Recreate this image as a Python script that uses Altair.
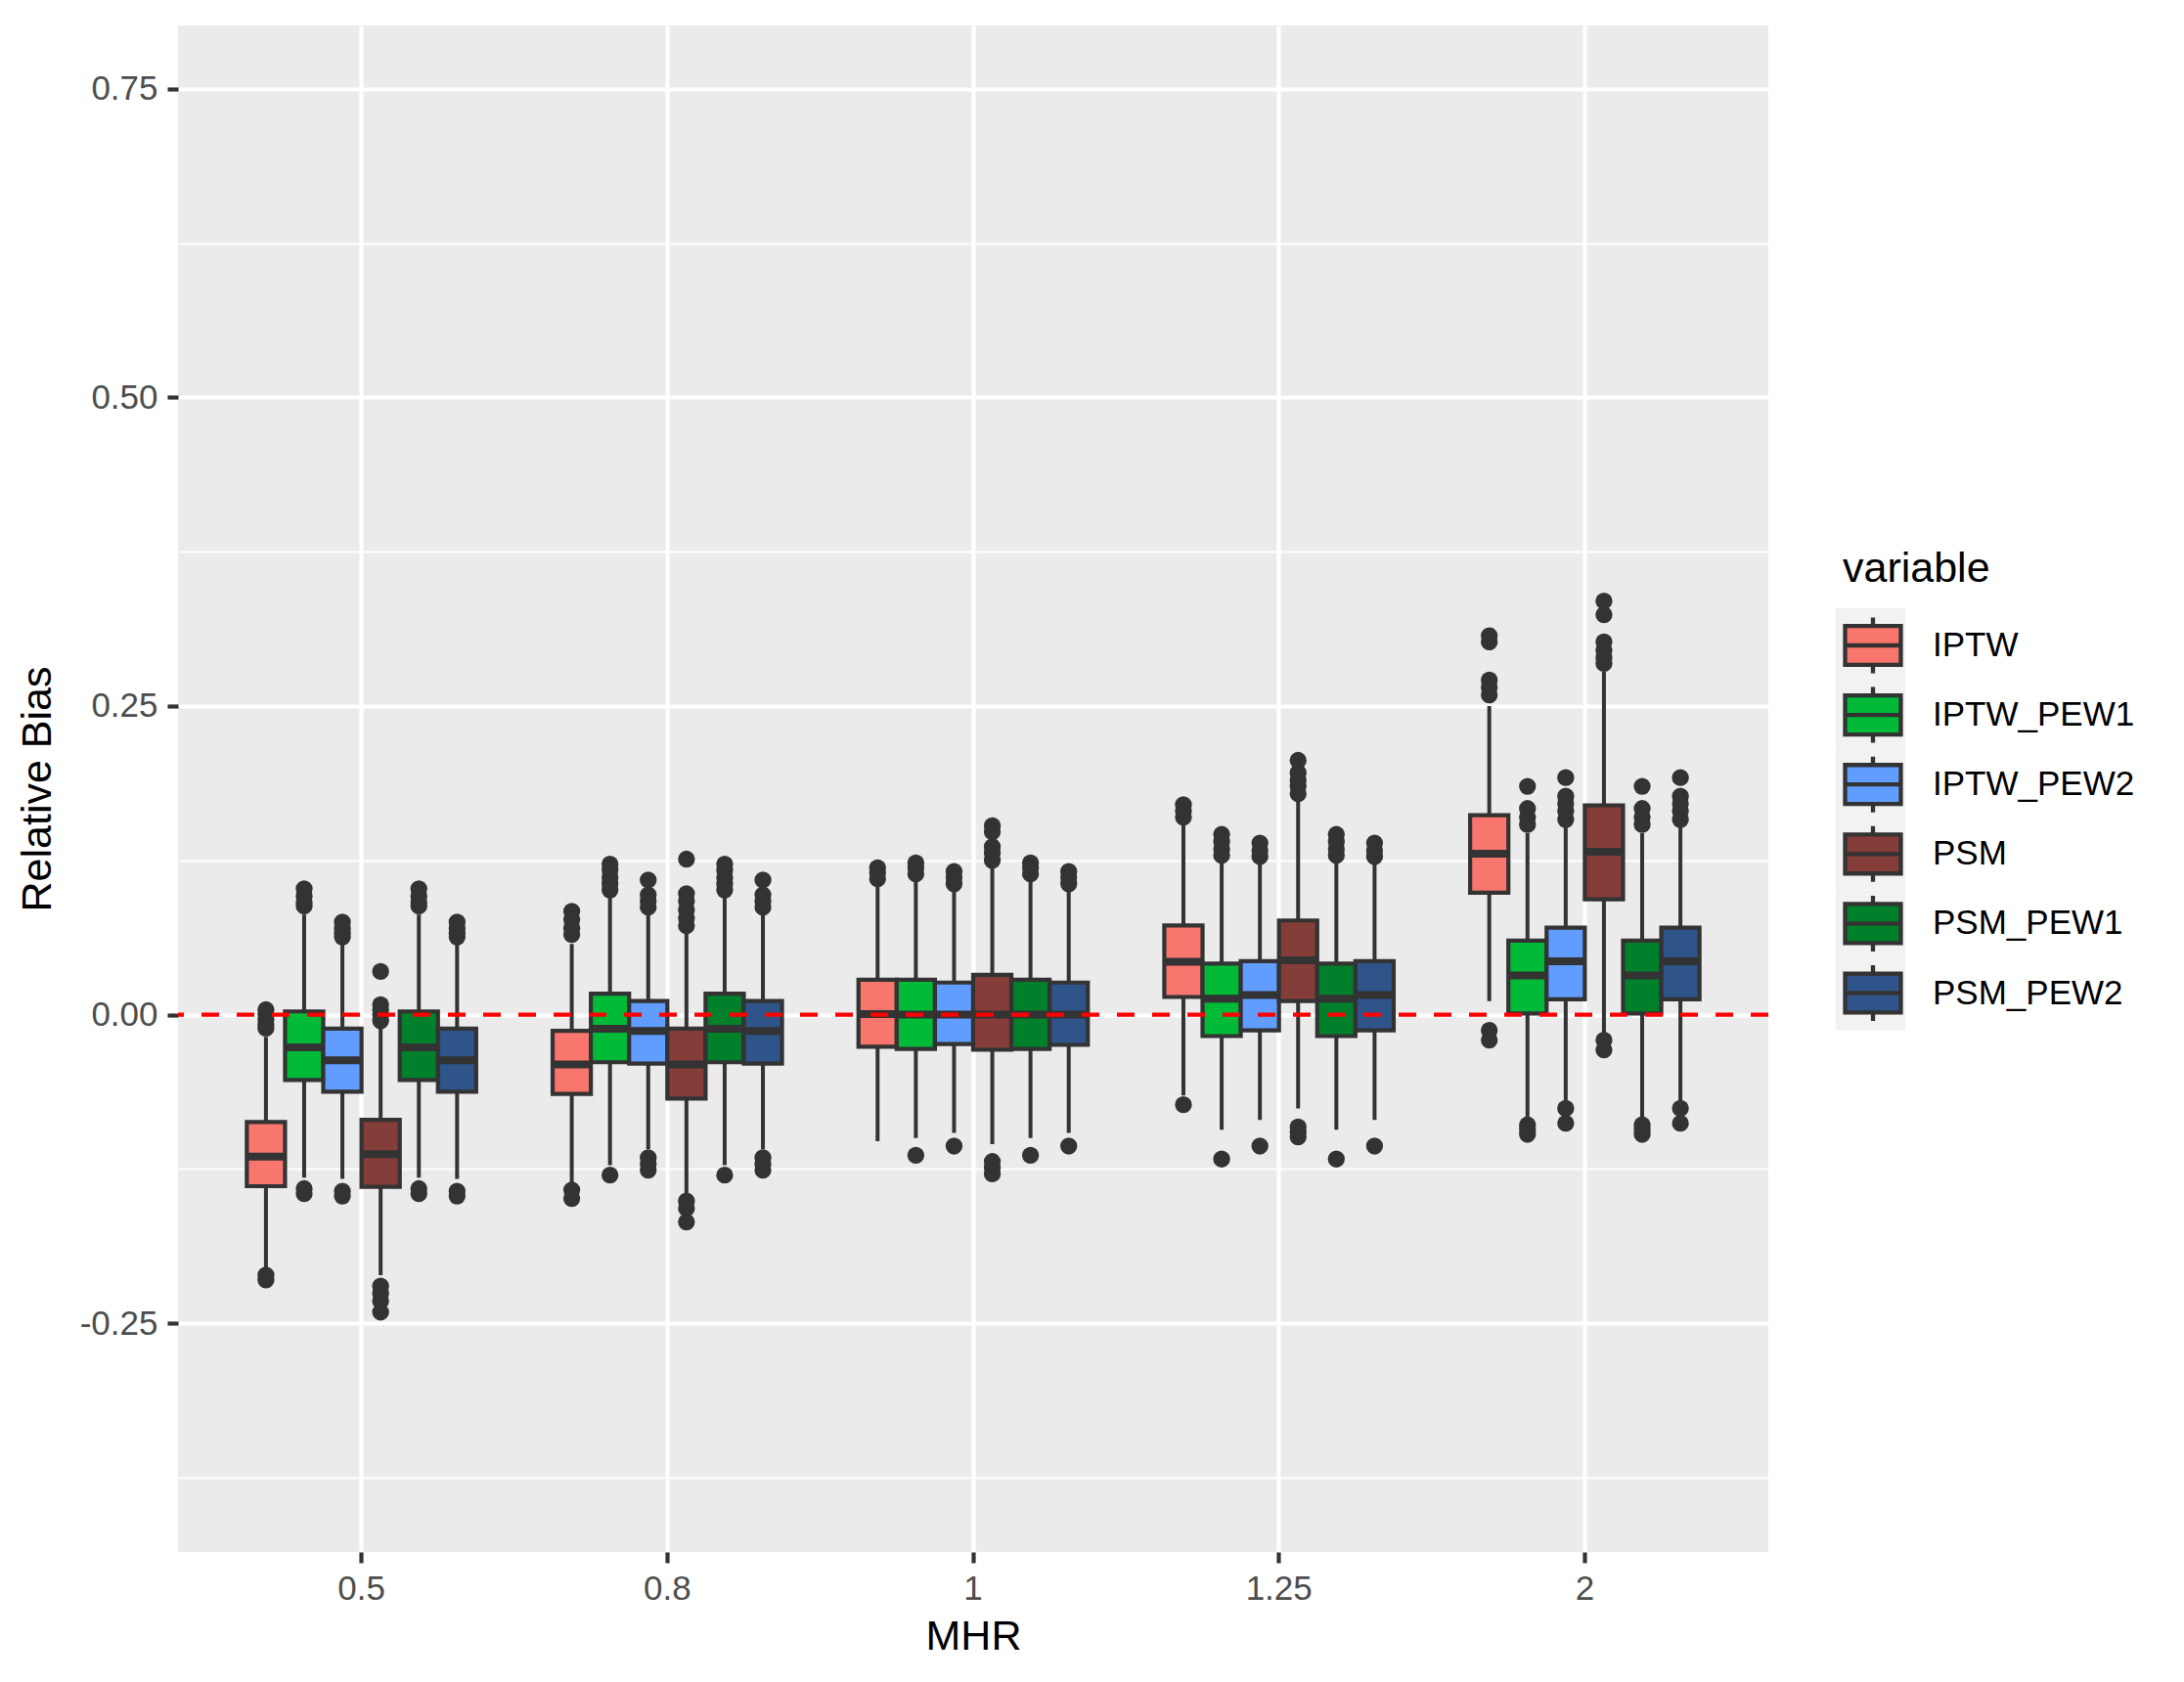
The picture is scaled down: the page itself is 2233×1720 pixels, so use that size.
import altair as alt
import pandas as pd

# ---------------- data ----------------
MHR = ["0.5", "0.8", "1", "1.25", "2"]
METHODS = ["IPTW", "IPTW_PEW1", "IPTW_PEW2", "PSM", "PSM_PEW1", "PSM_PEW2"]
COLORS = ["#F8766D", "#00BA38", "#619CFF", "#853D39", "#00802B", "#2E548A"]

# box statistics per method, one value per MHR level
LOWER = {
    "IPTW":      [-0.205, -0.137, -0.1025, -0.0655, 0.011],
    "IPTW_PEW1": [-0.132, -0.122, -0.0999, -0.0933, -0.0853],
    "IPTW_PEW2": [-0.133, -0.109, -0.0959, -0.0853, -0.0695],
    "PSM":       [-0.211, -0.147, -0.105, -0.076, -0.015],
    "PSM_PEW1":  [-0.132, -0.122, -0.0999, -0.0933, -0.0853],
    "PSM_PEW2":  [-0.133, -0.109, -0.0959, -0.0853, -0.0695],
}
Q1 = {
    "IPTW":      [-0.139, -0.0642, -0.026, 0.0143, 0.0987],
    "IPTW_PEW1": [-0.053, -0.0386, -0.0278, -0.0174, 0.001],
    "IPTW_PEW2": [-0.0624, -0.0396, -0.0238, -0.0127, 0.0124],
    "PSM":       [-0.1395, -0.068, -0.0285, 0.0111, 0.0935],
    "PSM_PEW1":  [-0.053, -0.0386, -0.0278, -0.0174, 0.001],
    "PSM_PEW2":  [-0.0624, -0.0396, -0.0245, -0.0127, 0.0124],
}
MEDIAN = {
    "IPTW":      [-0.115, -0.0404, 0.0005, 0.0428, 0.1304],
    "IPTW_PEW1": [-0.0265, -0.0114, 0.0, 0.0129, 0.0317],
    "IPTW_PEW2": [-0.037, -0.0132, 0.0, 0.0158, 0.0433],
    "PSM":       [-0.113, -0.0404, 0.0, 0.044, 0.132],
    "PSM_PEW1":  [-0.0265, -0.0114, 0.0, 0.0129, 0.0317],
    "PSM_PEW2":  [-0.037, -0.0132, 0.0, 0.0158, 0.0433],
}
Q3 = {
    "IPTW":      [-0.087, -0.0132, 0.0282, 0.0723, 0.1616],
    "IPTW_PEW1": [0.0026, 0.0169, 0.0282, 0.0414, 0.0599],
    "IPTW_PEW2": [-0.0114, 0.0111, 0.026, 0.0433, 0.0705],
    "PSM":       [-0.0853, -0.0114, 0.0322, 0.0763, 0.1696],
    "PSM_PEW1":  [0.0026, 0.0169, 0.0282, 0.0414, 0.0599],
    "PSM_PEW2":  [-0.0114, 0.0111, 0.026, 0.0433, 0.0705],
}
UPPER = {
    "IPTW":      [-0.018, 0.0573, 0.105, 0.155, 0.25],
    "IPTW_PEW1": [0.081, 0.097, 0.1075, 0.1246, 0.147],
    "IPTW_PEW2": [0.0586, 0.081, 0.1009, 0.122, 0.1537],
    "PSM":       [-0.01, 0.0666, 0.119, 0.1748, 0.2778],
    "PSM_PEW1":  [0.081, 0.097, 0.1075, 0.1246, 0.147],
    "PSM_PEW2":  [0.0586, 0.081, 0.1009, 0.122, 0.1537],
}
OUTLIERS = {
    "IPTW": [
        [0.004, 0.0, -0.004, -0.008, -0.011, -0.211, -0.215],
        [0.0837, 0.077, 0.07, 0.065, -0.142, -0.149],
        [0.119, 0.115, 0.11],
        [0.17, 0.165, 0.16, -0.073],
        [0.307, 0.302, 0.271, 0.265, 0.259, -0.0127, -0.0206],
    ],
    "IPTW_PEW1": [
        [0.102, 0.096, 0.091, 0.088, -0.141, -0.145],
        [0.122, 0.117, 0.111, 0.106, 0.101, -0.13],
        [0.123, 0.119, 0.114, -0.114],
        [0.146, 0.14, 0.134, 0.129, -0.117],
        [0.185, 0.167, 0.16, 0.154, -0.0893, -0.093, -0.097],
    ],
    "IPTW_PEW2": [
        [0.075, 0.07, 0.066, 0.063, -0.143, -0.147],
        [0.109, 0.097, 0.092, 0.087, -0.116, -0.121, -0.126],
        [0.116, 0.111, 0.106, -0.1065],
        [0.139, 0.133, 0.128, -0.1065],
        [0.192, 0.177, 0.171, 0.165, 0.158, -0.076, -0.088],
    ],
    "PSM": [
        [0.035, 0.008, 0.004, 0.0, -0.005, -0.22, -0.226, -0.232, -0.241],
        [0.126, 0.098, 0.092, 0.085, 0.078, 0.072, -0.151, -0.157, -0.168],
        [0.153, 0.148, 0.136, 0.131, 0.125, -0.119, -0.124, -0.129],
        [0.206, 0.196, 0.19, 0.185, 0.179, -0.091, -0.095, -0.099],
        [0.335, 0.324, 0.302, 0.295, 0.289, 0.2845, -0.0206, -0.0285],
    ],
    "PSM_PEW1": [
        [0.102, 0.096, 0.091, 0.088, -0.141, -0.145],
        [0.122, 0.117, 0.111, 0.106, 0.101, -0.13],
        [0.123, 0.119, 0.114, -0.114],
        [0.146, 0.14, 0.134, 0.129, -0.117],
        [0.185, 0.167, 0.16, 0.154, -0.0893, -0.093, -0.097],
    ],
    "PSM_PEW2": [
        [0.075, 0.07, 0.066, 0.063, -0.143, -0.147],
        [0.109, 0.097, 0.092, 0.087, -0.116, -0.121, -0.126],
        [0.116, 0.111, 0.106, -0.1065],
        [0.139, 0.133, 0.128, -0.1065],
        [0.192, 0.177, 0.171, 0.165, 0.158, -0.076, -0.088],
    ],
}
Y_TICKS = [-0.375, -0.25, -0.125, 0.0, 0.125, 0.25, 0.375, 0.5, 0.625, 0.75]
Y_DOMAIN = [-0.4353, 0.8014]
REF_LINE = 0.0
KEY_SLOTS = [m + " key" for m in METHODS]   # one grey legend-key cell per method

# ---------------- tables ----------------
box_rows = []
out_rows = []
for m in METHODS:
    for i, h in enumerate(MHR):
        box_rows.append(dict(MHR=h, variable=m, lower=LOWER[m][i], q1=Q1[m][i],
                             median=MEDIAN[m][i], q3=Q3[m][i], upper=UPPER[m][i]))
        for v in OUTLIERS[m][i]:
            out_rows.append(dict(MHR=h, variable=m, value=v))
box_df = pd.DataFrame(box_rows)
out_df = pd.DataFrame(out_rows)
key_df = pd.DataFrame({"slot": pd.Series([], dtype=str)})  # legend-only layer, draws nothing

FONT = "Liberation Sans"
DARK = "#333333"
PANEL = "#EBEBEB"

x_scale = alt.Scale(domain=MHR, paddingInner=0.25, paddingOuter=0.225)
xo_scale = alt.Scale(domain=METHODS, paddingInner=0, paddingOuter=0)
y_scale = alt.Scale(domain=Y_DOMAIN, nice=False, zero=False)

major_test = "abs(datum.value*4 - round(datum.value*4)) < 0.001"
y_axis = alt.Axis(
    values=Y_TICKS,
    labelExpr=("abs(datum.value*4 - round(datum.value*4)) > 0.001 ? '' : "
               "(datum.value < 0 ? '-' + format(-datum.value, '.2f') : format(datum.value, '.2f'))"),
    grid=True,
    gridColor="white",
    gridWidth={"condition": {"test": major_test, "value": 4.2}, "value": 2.2},
    tickColor={"condition": {"test": major_test, "value": DARK}, "value": "transparent"},
    tickSize=11, tickWidth=4.2,
    labelFontSize=35, labelColor="#4D4D4D", labelFont=FONT, labelPadding=10,
    titleFontSize=43, titleColor="black", titleFont=FONT, titleFontWeight="normal",
    titlePadding=21,
    domain=False,
)
x_axis = alt.Axis(
    labelAngle=0, grid=True, gridColor="white", gridWidth=4.2, bandPosition=0.5,
    tickSize=11, tickWidth=4.2, tickColor=DARK,
    labelFontSize=35, labelColor="#4D4D4D", labelFont=FONT, labelPadding=9,
    titleFontSize=43, titleColor="black", titleFont=FONT, titleFontWeight="normal",
    titlePadding=10, domain=False,
)


def X():
    return alt.X("MHR:N", scale=x_scale, axis=x_axis, title="MHR", sort=MHR)


def XO():
    return alt.XOffset("variable:N", scale=xo_scale, sort=METHODS)


def Y(field):
    return alt.Y(field, type="quantitative", scale=y_scale, axis=y_axis, title="Relative Bias")


legend = alt.Legend(
    title="variable", orient="none", legendX=1702, legendY=535, zindex=2,
    titleFontSize=43, titleFont=FONT, titleColor="black", titleFontWeight="normal",
    titlePadding=25,
    labelFontSize=35, labelFont=FONT, labelColor="black", labelOffset=30, labelLimit=0,
    symbolType="M-1,-0.7H1V0.7H-1Z M-1,0H1 M0,-0.7V-1 M0,0.7V1",
    symbolSize=3249, symbolStrokeColor=DARK, symbolStrokeWidth=4.3,
    rowPadding=-4.9,
)
# grey key backgrounds behind the legend glyphs (ggplot legend.key), no labels of its own
key_legend = alt.Legend(
    title=None, orient="none", legendX=1694.6, legendY=595.6, zindex=1,
    symbolSize=5141, rowPadding=0, symbolStrokeWidth=0,
    labelExpr="''", labelOpacity=0, labelFontSize=1, labelLimit=0,
)

whiskers = alt.Chart(box_df).mark_rule(color=DARK, strokeWidth=4).encode(
    x=X(), xOffset=XO(), y=Y("lower"), y2="upper"
)
boxes = alt.Chart(box_df).mark_bar(stroke=DARK, strokeWidth=4.2, opacity=1).encode(
    x=X(), xOffset=XO(), y=Y("q1"), y2="q3",
    fill=alt.Fill("variable:N", scale=alt.Scale(domain=METHODS, range=COLORS),
                  sort=METHODS, legend=legend),
)
medians = alt.Chart(box_df).mark_bar(stroke=DARK, strokeWidth=8, fill="transparent").encode(
    x=X(), xOffset=XO(), y=Y("median"), y2="median"
)
outliers = alt.Chart(out_df).mark_circle(color=DARK, size=300, opacity=1).encode(
    x=X(), xOffset=XO(), y=Y("value")
)
keys = alt.Chart(key_df).mark_point(filled=True, color="#F2F2F2", opacity=1).encode(
    shape=alt.Shape("slot:N", scale=alt.Scale(domain=KEY_SLOTS, range=["square"] * 6),
                    legend=key_legend),
)
ref_df = pd.DataFrame({"ref": [REF_LINE]})
hline = alt.Chart(ref_df).mark_rule(color="#FF0000", strokeWidth=4.3, strokeDash=[18, 18]).encode(
    y=Y("ref")
)

chart = alt.layer(whiskers, boxes, medians, outliers, keys, hline).properties(
    width=1626, height=1561,
    autosize=alt.AutoSizeParams(type="none"),
    padding={"left": 174, "top": 18, "right": 417, "bottom": 125},
    view=alt.ViewBackground(fill=PANEL, strokeWidth=0),
).configure(
    font=FONT, background="white"
).configure_view(
    fill=PANEL, strokeWidth=0
)

chart.save("out.html", embed_options={"renderer": "svg", "actions": False})
